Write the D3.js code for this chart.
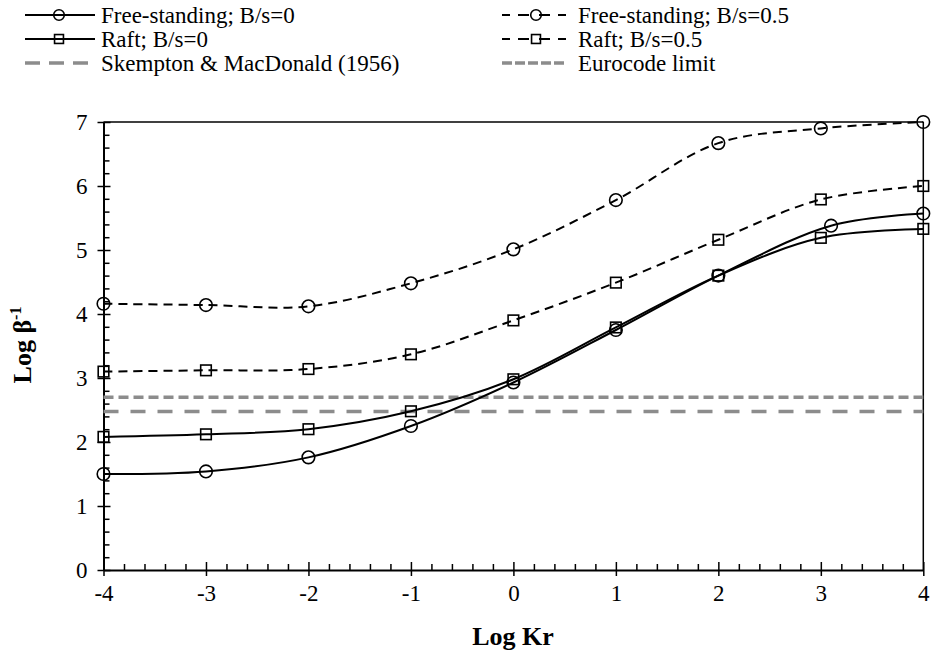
<!DOCTYPE html>
<html>
<head>
<meta charset="utf-8">
<script src="https://cdn.jsdelivr.net/npm/d3@7"></script>
<style>
  body { margin: 0; background: #fff; }
  svg { display: block; }
  svg text { font-family: "Liberation Serif", "Times New Roman", serif; fill: #000; }
</style>
</head>
<body>
<svg id="chart" width="932" height="658"></svg>
<script>
// ---- data ----
const kr = [-4, -3, -2, -1, 0, 1, 2, 3, 4];
const krFree0 = [-4, -3, -2, -1, 0, 1, 2, 3.1, 4];
const free0 = [1.50, 1.54, 1.76, 2.25, 2.93, 3.75, 4.60, 5.38, 5.57];
const raft0 = [2.08, 2.12, 2.20, 2.48, 2.98, 3.79, 4.60, 5.19, 5.33];
const free05 = [4.16, 4.14, 4.12, 4.48, 5.01, 5.78, 6.67, 6.90, 7.00];
const raft05 = [3.10, 3.12, 3.14, 3.37, 3.90, 4.49, 5.16, 5.79, 6.00];
const skemptonLimit = 2.477;   // log(300)
const eurocodeLimit = 2.699;   // log(500)
const xTicks = [-4, -3, -2, -1, 0, 1, 2, 3, 4];
const yTicks = [0, 1, 2, 3, 4, 5, 6, 7];
const seriesNames = ["Free-standing; B/s=0", "Free-standing; B/s=0.5", "Raft; B/s=0", "Raft; B/s=0.5",
                     "Skempton & MacDonald (1956)", "Eurocode limit"];

// ---- layout ----
const svg = d3.select("#chart");
const x = d3.scaleLinear().domain([-4, 4]).range([103.5, 923.3]);
const y = d3.scaleLinear().domain([0, 7]).range([570, 122]);

const BLACK_DASH = "9,6";
const series = [
  { name: seriesNames[0], xs: krFree0, ys: free0, marker: "circle", dash: null },
  { name: seriesNames[1], xs: kr, ys: free05, marker: "circle", dash: BLACK_DASH },
  { name: seriesNames[2], xs: kr, ys: raft0, marker: "square", dash: null },
  { name: seriesNames[3], xs: kr, ys: raft05, marker: "square", dash: BLACK_DASH }
];
const limits = [
  { name: seriesNames[4], value: skemptonLimit, dash: "15,12", color: "#8c8c8c" },
  { name: seriesNames[5], value: eurocodeLimit, dash: "10,5", color: "#8c8c8c" }
];
const fmt = d => String(d);

// ---- frame (top & right) ----
svg.append("line").attr("x1", x(-4)).attr("x2", x(4)).attr("y1", y(7)).attr("y2", y(7))
  .attr("stroke", "#000").attr("stroke-width", 1.5);
svg.append("line").attr("x1", x(4)).attr("x2", x(4)).attr("y1", y(7)).attr("y2", y(0))
  .attr("stroke", "#000").attr("stroke-width", 1.5);

// ---- minor ticks ----
const minorX = d3.range(-4, 4.001, 0.2).filter(v => Math.abs(v - Math.round(v)) > 1e-6);
const minorY = d3.range(0, 7.001, 0.2).filter(v => Math.abs(v - Math.round(v)) > 1e-6);
svg.append("g").attr("transform", `translate(0,${y(0)})`)
  .call(d3.axisBottom(x).tickValues(minorX).tickSize(-6).tickFormat(""))
  .call(g => g.select(".domain").remove())
  .selectAll("line").attr("stroke-width", 1.5);
svg.append("g").attr("transform", `translate(${x(-4)},0)`)
  .call(d3.axisLeft(y).tickValues(minorY).tickSize(-6).tickFormat(""))
  .call(g => g.select(".domain").remove())
  .selectAll("line").attr("stroke-width", 1.5);

// ---- major axes ----
const xAxis = svg.append("g").attr("transform", `translate(0,${y(0)})`)
  .call(d3.axisBottom(x).tickValues(xTicks).tickSize(6).tickPadding(9).tickSizeOuter(0).tickFormat(fmt));
xAxis.attr("font-family", null).attr("font-size", null);
xAxis.select(".domain").attr("stroke-width", 2);
xAxis.selectAll(".tick line").attr("y1", -8).attr("stroke-width", 1.5);
xAxis.selectAll("text").style("font-size", "23px");

const yAxis = svg.append("g").attr("transform", `translate(${x(-4)},0)`)
  .call(d3.axisLeft(y).tickValues(yTicks).tickSize(6).tickPadding(10).tickSizeOuter(0).tickFormat(fmt));
yAxis.attr("font-family", null).attr("font-size", null);
yAxis.select(".domain").attr("stroke-width", 2);
yAxis.selectAll(".tick line").attr("x1", 7).attr("stroke-width", 1.5);
yAxis.selectAll("text").style("font-size", "23px");

// ---- limit lines ----
limits.forEach(l => {
  svg.append("line").attr("x1", x(-4)).attr("x2", x(4)).attr("y1", y(l.value)).attr("y2", y(l.value))
    .attr("stroke", l.color).attr("stroke-width", 3.5).attr("stroke-dasharray", l.dash);
});

// ---- series ----
function drawMarker(g, type, cx, cy, size) {
  const r = size || 6.3;
  if (type === "circle") {
    g.append("circle").attr("cx", cx).attr("cy", cy).attr("r", r)
      .attr("fill", "none").attr("stroke", "#000").attr("stroke-width", 1.6);
  } else {
    const h = r * 0.84;
    g.append("rect").attr("x", cx - h).attr("y", cy - h).attr("width", 2 * h).attr("height", 2 * h)
      .attr("fill", "none").attr("stroke", "#000").attr("stroke-width", 1.6);
  }
}
const line = d3.line().x(d => x(d[0])).y(d => y(d[1])).curve(d3.curveCatmullRom.alpha(0.5));
series.forEach(s => {
  const pts = s.xs.map((v, i) => [v, s.ys[i]]);
  const g = svg.append("g");
  g.append("path").datum(pts).attr("d", line).attr("fill", "none")
    .attr("stroke", "#000").attr("stroke-width", 2)
    .attr("stroke-dasharray", s.dash);
  pts.forEach(p => drawMarker(g, s.marker, x(p[0]), y(p[1])));
});

// ---- axis titles ----
svg.append("text").attr("x", 513).attr("y", 645).attr("text-anchor", "middle")
  .style("font-size", "26px").attr("font-weight", "bold").text("Log Kr");
const yt = svg.append("text").attr("transform", "translate(31,345) rotate(-90)")
  .attr("text-anchor", "middle").style("font-size", "26px").attr("font-weight", "bold");
yt.append("tspan").text("Log β");
yt.append("tspan").style("font-size", "16px").attr("dy", -10).text("-1");

// ---- legend ----
const legendItems = [
  { s: series[0], col: 0, row: 0 },
  { s: series[1], col: 1, row: 0 },
  { s: series[2], col: 0, row: 1 },
  { s: series[3], col: 1, row: 1 },
  { l: limits[0], col: 0, row: 2 },
  { l: limits[1], col: 1, row: 2 }
];
const colX = [25, 502];
const colW = [70, 64];
const textX = [101, 578];
const rowY = [15, 39, 63];
legendItems.forEach(it => {
  const x0 = colX[it.col], w = colW[it.col], yy = rowY[it.row];
  const g = svg.append("g");
  if (it.s) {
    if (it.s.dash) {
      // "- -O- -" pattern as in the reference legend
      const segs = [[0, 8], [16, 27], [37, 48], [56, 64]];
      segs.forEach(sg => g.append("line").attr("x1", x0 + sg[0]).attr("x2", x0 + sg[1])
        .attr("y1", yy).attr("y2", yy).attr("stroke", "#000").attr("stroke-width", 2));
    } else {
      g.append("line").attr("x1", x0).attr("x2", x0 + w).attr("y1", yy).attr("y2", yy)
        .attr("stroke", "#000").attr("stroke-width", 2);
    }
    drawMarker(g, it.s.marker, x0 + w / 2 + (it.col ? 2 : -1), yy, 5.3);
  } else {
    g.append("line").attr("x1", x0).attr("x2", x0 + w).attr("y1", yy).attr("y2", yy)
      .attr("stroke", it.l.color).attr("stroke-width", 3.5)
      .attr("stroke-dasharray", it.col ? "10,3" : "15,9");
  }
  g.append("text").attr("x", textX[it.col]).attr("y", yy + 8)
    .style("font-size", "23px").text(it.s ? it.s.name : it.l.name);
});
</script>
</body>
</html>
